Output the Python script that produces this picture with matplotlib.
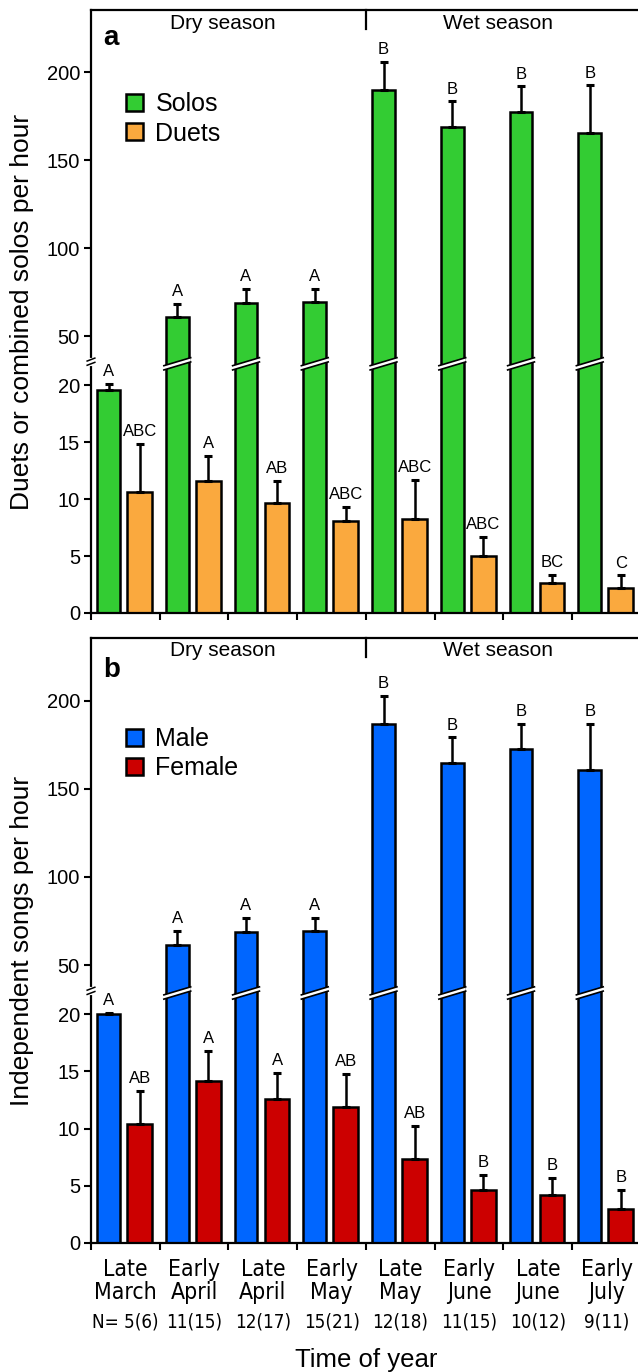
import numpy as np
import matplotlib
matplotlib.use("Agg")
import matplotlib.pyplot as plt
from matplotlib.patches import Patch
from matplotlib import font_manager
import matplotlib.transforms as mtransforms

plt.rcParams['font.family'] = ['Liberation Sans', 'DejaVu Sans']

# data
periods = ["Late\nMarch", "Early\nApril", "Late\nApril", "Early\nMay",
           "Late\nMay", "Early\nJune", "Late\nJune", "Early\nJuly"]
n_labels = ["N= 5(6)", "11(15)", "12(17)", "15(21)", "12(18)", "11(15)", "10(12)", "9(11)"]

solos = [19.6, 60.8, 68.8, 69.3, 189.8, 168.8, 177.3, 165.3]
solos_se = [1.3, 7.4, 7.9, 7.4, 16.2, 14.7, 14.7, 27.3]
solos_let = ["A", "A", "A", "A", "B", "B", "B", "B"]
duets = [10.6, 11.6, 9.65, 8.1, 8.25, 5.0, 2.65, 2.2]
duets_se = [4.2, 2.2, 1.95, 1.2, 3.45, 1.65, 0.7, 1.1]
duets_let = ["ABC", "A", "AB", "ABC", "ABC", "ABC", "BC", "C"]

male = [20.26, 61.4, 68.9, 69.4, 186.6, 164.9, 172.3, 160.9]
male_se = [0.75, 8.0, 8.0, 7.5, 16.0, 14.2, 14.3, 25.7]
male_let = ["A", "A", "A", "A", "B", "B", "B", "B"]
female = [10.4, 14.2, 12.6, 11.85, 7.37, 4.65, 4.2, 3.0]
female_se = [2.9, 2.6, 2.3, 2.95, 2.85, 1.3, 1.5, 1.65]
female_let = ["AB", "A", "A", "AB", "AB", "B", "B", "B"]

YTICKS = [0, 5, 10, 15, 20, 50, 100, 150, 200]

# broken y axis: 0-20 stretched, 20-50 squeezed, 50+ compressed
BRK_IN = [0, 20, 50, 250]
BRK_OUT = [0, 228, 277, 277 + 200 * 1.758]


def fwd(y):
    return np.interp(y, BRK_IN, BRK_OUT)


def inv(u):
    return np.interp(u, BRK_OUT, BRK_IN)


# month labels are set in a narrow sans face; use one if the system has it
narrow = None
for f in font_manager.fontManager.ttflist:
    nm = f.name
    if 'Sans' not in nm or 'Mono' in nm or 'Serif' in nm or f.style != 'normal':
        continue
    if f.weight not in (400, 'normal', 'regular', 'book'):
        continue
    if 'Narrow' in nm or 'Condensed' in nm or 'condensed' in str(f.stretch):
        if narrow is None or 'Liberation' in nm:
            narrow = f
if narrow is not None:
    big = 18 if 'Liberation' in narrow.name else 16.5
    cat_fp = font_manager.FontProperties(fname=narrow.fname, size=big)
    n_fp = font_manager.FontProperties(fname=narrow.fname, size=big - 3)
else:
    cat_fp = font_manager.FontProperties(family='Liberation Sans', size=16)
    n_fp = font_manager.FontProperties(family='Liberation Sans', size=13)

W = 638
H = 1372
fig = plt.figure(figsize=(W / 100, H / 100), dpi=100)
ax_a = fig.add_axes([91 / W, (H - 613) / H, 550 / W, 603 / H])
ax_b = fig.add_axes([91 / W, (H - 1243) / H, 550 / W, 605 / H])

C1_OFF, C1_W = 0.255, 0.33
C2_OFF, C2_W = 0.707, 0.36


def draw_panel(ax, v1, e1, l1, v2, e2, l2, col1, col2, names, letter, ylabel, leg_y, letter_y, season_y):
    x = np.arange(len(v1))
    ax.set_yscale('function', functions=(fwd, inv))
    ax.bar(x + C1_OFF, v1, C1_W, color=col1, edgecolor='black', linewidth=1.8, zorder=2)
    ax.bar(x + C2_OFF, v2, C2_W, color=col2, edgecolor='black', linewidth=1.8, zorder=2)
    ax.errorbar(x + C1_OFF, v1, yerr=[np.zeros(len(e1)), e1], fmt='none', ecolor='black',
                elinewidth=1.8, capsize=2.6, capthick=2.2, zorder=3)
    ax.errorbar(x + C2_OFF, v2, yerr=[np.zeros(len(e2)), e2], fmt='none', ecolor='black',
                elinewidth=1.8, capsize=2.6, capthick=2.2, zorder=3)
    for xs, vv, ee, ll in [(x + C1_OFF, v1, e1, l1), (x + C2_OFF, v2, e2, l2)]:
        for xi, vi, ei, li in zip(xs, vv, ee, ll):
            ax.annotate(li, (xi, vi + ei), xytext=(0, 3.5), textcoords='offset points',
                        ha='center', va='bottom', fontsize=12)

    # slanted break marks on tall bars
    yb, rise, half = 33.0, 2.45, 1.3
    for xi, vi in zip(x + C1_OFF, v1):
        if vi > 50:
            xl, xr = xi - C1_W / 2 - 0.03, xi + C1_W / 2 + 0.03
            ax.fill([xl, xr, xr, xl], [yb - rise - half, yb + rise - half, yb + rise + half, yb - rise + half],
                    color='white', lw=0, zorder=4)
            for s in (-half, half):
                ax.plot([xl, xr], [yb - rise + s, yb + rise + s], color='black', lw=1.2, zorder=5)

    ax.set_xlim(0, len(v1))
    ax.set_ylim(0, 235.5)
    ax.set_yticks(YTICKS)
    ax.set_yticklabels([str(t) for t in YTICKS])
    ax.yaxis.set_minor_locator(matplotlib.ticker.NullLocator())
    ax.set_xticks(np.arange(len(v1) + 1))
    ax.set_xticklabels([])
    ax.tick_params(axis='both', which='major', direction='out', length=5, width=1.5,
                   labelsize=14.5, pad=3)
    ax.spines['right'].set_visible(False)
    for s in ('left', 'top', 'bottom'):
        ax.spines[s].set_linewidth(1.6)

    # break in the y axis line
    tr = mtransforms.blended_transform_factory(ax.transAxes, ax.transData)
    ax.plot([0, 0], [33.0, 35.6], color='white', lw=3, transform=tr, clip_on=False, zorder=6)
    for yy in (33.0, 35.6):
        ax.plot([-0.007, 0.007], [yy - 0.9, yy + 0.9], color='black', lw=1.1, transform=tr,
                clip_on=False, zorder=7)

    # season divider and labels
    trx = mtransforms.blended_transform_factory(ax.transData, ax.transAxes)
    ax.plot([4, 4], [1, 1 - 19 / 603], color='black', lw=1.6, transform=trx, clip_on=False)
    ax.text(1.92, season_y, "Dry season", transform=trx, ha='center', va='baseline', fontsize=15)
    ax.text(5.92, season_y, "Wet season", transform=trx, ha='center', va='baseline', fontsize=15)

    ax.text(0.022, letter_y, letter, transform=ax.transAxes, fontsize=20, fontweight='bold',
            va='baseline', ha='left')
    ax.text(-0.1255, 0.5, ylabel, transform=ax.transAxes, rotation=90, ha='center', va='center',
            fontsize=19)

    handles = [Patch(facecolor=col1, edgecolor='black', linewidth=1.8, label=names[0]),
               Patch(facecolor=col2, edgecolor='black', linewidth=1.8, label=names[1])]
    ax.legend(handles=handles, loc='upper left', bbox_to_anchor=(0.0636, leg_y), frameon=False,
              fontsize=18, handlelength=0.68, handleheight=0.68, handletextpad=0.5,
              labelspacing=0.22, borderpad=0, borderaxespad=0)


draw_panel(ax_a, solos, solos_se, solos_let, duets, duets_se, duets_let,
           '#33CC33', '#FAA93E', ["Solos", "Duets"], "a",
           "Duets or combined solos per hour", 0.864, 0.942, 0.9685)
draw_panel(ax_b, male, male_se, male_let, female, female_se, female_let,
           '#0066FF', '#CC0000', ["Male", "Female"], "b",
           "Independent songs per hour", 0.853, 0.9355, 0.970)

# category labels on the lower panel
centers = np.arange(len(periods)) + 0.5
ax_b.set_xticks(centers, minor=True)
ax_b.set_xticklabels(periods, minor=True, fontproperties=cat_fp, linespacing=1.0)
ax_b.tick_params(axis='x', which='minor', length=0, pad=11)
trn = mtransforms.blended_transform_factory(ax_b.transData, ax_b.transAxes)
for xc, nl in zip(centers, n_labels):
    ax_b.annotate(nl, (xc, 0), xycoords=trn, xytext=(0, -61), textcoords='offset points',
                  ha='center', va='baseline', fontproperties=n_fp)

fig.text(366 / W, (H - 1367) / H, "Time of year", ha='center', va='baseline', fontsize=18.5)

fig.savefig("out.png", dpi=100)
